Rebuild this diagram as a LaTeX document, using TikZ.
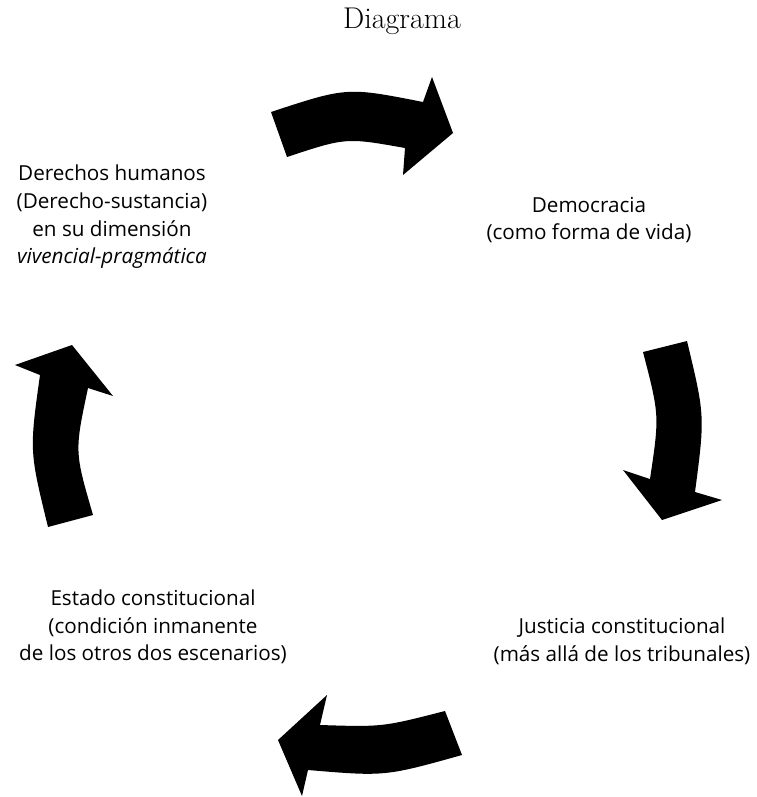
\documentclass[tikz,border=0pt]{standalone}
\usepackage{fontspec}
\newfontfamily\lblfont{Open Sans}
\tikzset{
  lbl/.style={font=\lblfont\fontsize{15.5}{20.8}\selectfont, align=center, inner sep=0pt},
  bigarrow/.style={fill=black, draw=none}
}
\begin{document}
\begin{tikzpicture}[x=0.75pt, y=-0.75pt]
        \useasboundingbox (0,0) rectangle (757,797);

        \node (title) at (402,28) [anchor=base, font=\fontsize{22.5}{26}\selectfont, inner sep=0pt] {Diagrama};

        \node[lbl] (dh) at (112,217) {Derechos humanos\\(Derecho-sustancia)\\en su dimensi\'on\\\textit{vivencial-pragm\'atica}};
        \node[lbl] (dem) at (589,220) {Democracia\\(como forma de vida)};
        \node[lbl] (jus) at (622,641) {Justicia constitucional\\(m\'as all\'a de los tribunales)};
        \node[lbl] (est) at (153,627) {Estado constitucional\\(condici\'on inmanente\\de los otros dos escenarios)};

        \fill[bigarrow] (271,112) .. controls (347,87) .. (423,102) -- (432,77) -- (453,133)
            -- (403,175) -- (405,148) .. controls (346,137.5) .. (287,157) -- cycle;

        \fill[bigarrow] (643,352) -- (687,341) .. controls (705,416) .. (695,492) -- (722,500)
            -- (662,520) -- (623,470) -- (650,479) .. controls (659.5,415.5) .. cycle;

        \fill[bigarrow] (462,755) -- (445,711) .. controls (382.5,727) .. (320,725) -- (327,695)
            -- (278,740) -- (302,796) -- (308,770) .. controls (385,776.5) .. cycle;

        \fill[bigarrow] (48,527) .. controls (29.4,451) .. (40,375) -- (15,365) -- (72,345)
            -- (113,396) -- (88,388) .. controls (74.5,451.5) .. (93,515) -- cycle;
    \end{tikzpicture}
\end{document}
